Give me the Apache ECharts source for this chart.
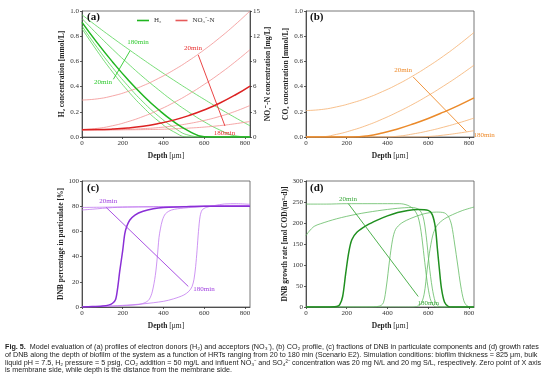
<!DOCTYPE html>
<html>
<head>
<meta charset="utf-8">
<script src="https://cdn.jsdelivr.net/npm/echarts@6/dist/echarts.min.js"></script>
<style>html,body{margin:0;padding:0;background:#fff}#c{width:554px;height:380px}</style>
</head>
<body>
<div id="c"></div>
<script>
// ---------- data ----------
const hrtNames = ['20min', '40min', '60min', '120min', '180min'];
const depth = [0, 75, 150, 225, 300, 375, 450, 525, 600, 675, 750, 825];
const xTicks = [0, 200, 400, 600, 800];

// (a) H2 [mmol/L]
const h2_1 = [0.86, 0.681, 0.516, 0.367, 0.237, 0.127, 0.042, 0, 0, 0, 0, 0];
const h2_2 = [0.88, 0.709, 0.551, 0.407, 0.278, 0.167, 0.077, 0.014, 0, 0, 0, 0];
const h2_3 = [0.91, 0.747, 0.596, 0.456, 0.330, 0.218, 0.122, 0.047, 0.002, 0, 0, 0];
const h2_4 = [0.94, 0.816, 0.697, 0.584, 0.476, 0.376, 0.282, 0.197, 0.121, 0.057, 0.010, 0];
const h2_5 = [0.97, 0.877, 0.787, 0.700, 0.615, 0.532, 0.452, 0.374, 0.299, 0.226, 0.156, 0.089];
// (a) NO3-N [mg/L]
const no3_1 = [4.4, 4.54, 4.89, 5.42, 6.11, 6.97, 7.96, 9.10, 10.38, 11.79, 13.33, 15.0];
const no3_2 = [0.9, 1.03, 1.34, 1.82, 2.44, 3.20, 4.09, 5.11, 6.26, 7.52, 8.90, 10.4];
const no3_3 = [0.87, 0.88, 0.94, 1.07, 1.28, 1.60, 2.01, 2.55, 3.22, 4.02, 4.97, 6.07];
const no3_4 = [0.85, 0.85, 0.87, 0.91, 0.99, 1.12, 1.32, 1.60, 1.97, 2.44, 3.03, 3.75];
const no3_5 = [0.85, 0.85, 0.85, 0.86, 0.88, 0.91, 0.97, 1.06, 1.18, 1.35, 1.57, 1.85];
// (b) CO2 [mmol/L]
const co2_1 = [0.21, 0.218, 0.239, 0.270, 0.310, 0.360, 0.418, 0.485, 0.560, 0.642, 0.732, 0.83];
const co2_2 = [0, 0.002, 0.021, 0.053, 0.093, 0.142, 0.198, 0.260, 0.329, 0.404, 0.484, 0.57];
const co2_3 = [0, 0, 0, 0, 0.008, 0.031, 0.064, 0.103, 0.147, 0.197, 0.251, 0.31];
const co2_4 = [0, 0, 0, 0, 0, 0, 0.006, 0.024, 0.048, 0.078, 0.112, 0.15];
const co2_5 = [0, 0, 0, 0, 0, 0, 0, 0, 0.004, 0.015, 0.031, 0.05];
// (c) DNB percentage in particulate [%]  ([depth, value])
const pct_1 = [[0,79],[100,79.2],[200,79.4],[300,79.5],[400,79.6],[500,79.7],[600,80],[700,80.3],[825,80.5]];
const pct_2 = [[0,77],[50,77.6],[100,78.3],[150,78.9],[200,79.2],[300,79.5],[400,79.6],[600,80],[825,80.3]];
const pct_3 = [[0,0],[50,0.3],[100,0.8],[130,1.5],[150,3],[165,6],[175,15],[185,28],[200,45],[210,58],[220,64],[235,69],[260,73],[300,76],[350,78],[400,79],[500,79.5],[600,80],[825,80]];
const pct_4 = [[0,0],[100,0.4],[200,1],[280,2],[310,3.5],[330,6],[345,12],[360,25],[370,40],[378,55],[385,62],[395,69],[410,74],[440,77],[500,78.5],[600,79.8],[700,80.6],[825,80.6]];
const pct_5 = [[0,0],[100,0.5],[200,1.3],[300,2.5],[400,4.5],[450,6.5],[500,9.5],[525,12.5],[540,16],[550,22],[558,32],[565,45],[572,60],[580,72],[590,77],[610,79],[650,80.5],[700,81.8],[760,82],[825,81.5]];
// (d) DNB growth rate [mol COD/(m3 d)]
const gr_1 = [[0,245],[100,245],[200,246],[300,246],[400,246],[460,246],[500,242],[530,232],[550,215],[565,180],[580,120],[595,60],[610,20],[625,4],[640,0],[825,0]];
const gr_2 = [[0,170],[15,180],[40,192],[70,198],[150,210],[250,221],[350,229],[450,235],[520,237],[555,232],[575,215],[590,170],[605,100],[620,45],[635,12],[650,2],[665,0],[825,0]];
const gr_3 = [[0,0],[100,0],[150,1],[165,5],[180,25],[195,80],[210,130],[225,160],[250,178],[300,195],[350,207],[400,217],[450,225],[500,230],[550,232],[600,230],[620,220],[635,190],[645,140],[655,90],[665,45],[680,12],[700,1],[720,0],[825,0]];
const gr_4 = [[0,0],[300,0],[360,2],[380,10],[395,50],[410,110],[425,160],[440,185],[470,200],[520,212],[580,222],[640,226],[680,224],[700,215],[715,195],[730,150],[745,100],[760,50],[775,15],[790,3],[810,0],[825,0]];
const gr_5 = [[0,0],[520,0],[560,5],[580,30],[595,90],[610,140],[625,175],[645,195],[680,210],[720,220],[770,230],[825,238]];

// ---------- style ----------
const SERIF = 'Liberation Serif';
const AX = '#333';
const pair = arr => depth.map((d, i) => [d, arr[i]]);

const grids = [
  {left: 82, top: 11, width: 168, height: 126},
  {left: 306, top: 11, width: 168, height: 126},
  {left: 82, top: 181, width: 168, height: 126},
  {left: 306, top: 181, width: 168, height: 126}
].map(g => Object.assign({show: true, borderColor: '#555', borderWidth: 0.8, containLabel: false}, g));

function xAx(i) {
  return {
    type: 'value', gridIndex: i, min: 0, max: 825,
    splitLine: {show: false},
    axisLine: {onZero: false, lineStyle: {color: AX, width: 0.8}},
    axisTick: {length: 2, customValues: xTicks, lineStyle: {color: AX, width: 0.8}},
    axisLabel: {customValues: xTicks, fontSize: 7, margin: 3, color: AX, fontFamily: SERIF},
    name: '{b|Depth} [μm]', nameLocation: 'middle', nameGap: 15,
    nameTextStyle: {fontSize: 7.5, fontFamily: SERIF, color: '#222',
      rich: {b: {fontSize: 7.5, fontFamily: SERIF, fontWeight: 'bold', color: '#222'}}}
  };
}
function yAx(i, min, max, interval, name, dec, pos) {
  return {
    type: 'value', gridIndex: i, min, max, interval, position: pos || 'left',
    splitLine: {show: false},
    axisLine: {show: true, onZero: false, lineStyle: {color: AX, width: 0.8}},
    axisTick: {show: true, length: 2, lineStyle: {color: AX, width: 0.8}},
    axisLabel: {fontSize: 7, margin: 3, color: AX, fontFamily: SERIF,
      formatter: v => v.toFixed(dec)},
    name, nameLocation: 'middle', nameRotate: 90, nameGap: pos === 'right' ? 12 : (dec ? 13 : 15),
    nameTextStyle: {fontSize: 7.5, fontFamily: SERIF, fontWeight: 'bold', color: '#222'}
  };
}

function line(name, xi, yi, data, color, width, sm) {
  return {
    type: 'line', name, xAxisIndex: xi, yAxisIndex: yi, data,
    symbol: 'none', showSymbol: false, smooth: sm,
    lineStyle: {color, width}, itemStyle: {color}, animation: false,
    z: width > 1 ? 4 : 3, silent: true
  };
}
function annot(xi, yi, color, from, to, lab1, lab2, pos2) {
  return {
    type: 'line', xAxisIndex: xi, yAxisIndex: yi, data: [], animation: false, silent: true, z: 6,
    markLine: {
      silent: true, animation: false, symbol: ['none', 'arrow'], symbolSize: [0, 5],
      lineStyle: {color, width: 0.9, type: 'solid'}, label: {show: false},
      data: [[{coord: from}, {coord: to}]]
    },
    markPoint: {
      silent: true, animation: false, symbol: 'circle', symbolSize: 0,
      label: {show: true, position: 'inside', color, fontSize: 7, fontFamily: SERIF},
      data: [
        {coord: lab1, label: {formatter: hrtNames[0]}},
        {coord: lab2, label: {formatter: hrtNames[4], position: pos2 || 'inside', distance: 0}}
      ]
    }
  };
}

const G = '#55d455', GT = '#1fb51f';
const R = '#f29090', RT = '#dc2222';
const O = '#f5b06e', OT = '#eb8a2a';
const P = '#c27af0', PT = '#8a2fd6';
const D = '#63bb63', DT = '#1f8f1f';

const S1 = 0.5, S2 = 0.3;
const series = [
  line('H₂', 0, 0, pair(h2_1), G, 0.8, S1),
  line('H₂', 0, 0, pair(h2_2), G, 0.8, S1),
  line('H₂', 0, 0, pair(h2_3), GT, 1.5, S1),
  line('H₂', 0, 0, pair(h2_4), G, 0.8, S1),
  line('H₂', 0, 0, pair(h2_5), G, 0.8, S1),
  line('NO₃⁻-N', 0, 1, pair(no3_1), R, 0.8, S1),
  line('NO₃⁻-N', 0, 1, pair(no3_2), R, 0.8, S1),
  line('NO₃⁻-N', 0, 1, pair(no3_3), RT, 1.5, S1),
  line('NO₃⁻-N', 0, 1, pair(no3_4), R, 0.8, S1),
  line('NO₃⁻-N', 0, 1, pair(no3_5), R, 0.8, S1),
  line('co1', 1, 2, pair(co2_1), O, 0.8, S1),
  line('co2', 1, 2, pair(co2_2), O, 0.8, S1),
  line('co3', 1, 2, pair(co2_3), OT, 1.5, S1),
  line('co4', 1, 2, pair(co2_4), O, 0.8, S1),
  line('co5', 1, 2, pair(co2_5), O, 0.8, S1),
  line('p1', 2, 3, pct_1, P, 0.8, S2),
  line('p2', 2, 3, pct_2, P, 0.8, S2),
  line('p3', 2, 3, pct_3, PT, 1.5, S2),
  line('p4', 2, 3, pct_4, P, 0.8, S2),
  line('p5', 2, 3, pct_5, P, 0.8, S2),
  line('g1', 3, 4, gr_1, D, 0.8, S2),
  line('g2', 3, 4, gr_2, D, 0.8, S2),
  line('g3', 3, 4, gr_3, DT, 1.5, S2),
  line('g4', 3, 4, gr_4, D, 0.8, S2),
  line('g5', 3, 4, gr_5, D, 0.8, S2),
  annot(0, 0, '#2ec92e', [154, 0.458], [236, 0.685], [103, 0.437], [275, 0.75]),
  annot(0, 1, '#e83030', [571, 9.76], [702, 1.31], [545, 10.63], [700, 0.5]),
  annot(1, 2, '#ee8a2a', [526, 0.477], [787, 0.045], [477, 0.53], [822, 0.013], 'right'),
  annot(2, 3, '#a040e0', [119, 79], [522, 16.3], [129, 84.2], [599, 14.5]),
  annot(3, 4, '#3aa83a', [208, 246], [551, 25], [206, 256], [600, 8])
];

const panelTitle = (t, left, top) => ({text: t, left, top, padding: 0,
  textStyle: {fontSize: 11, fontWeight: 'bold', fontFamily: SERIF, color: '#111'}});

const CAPF = 'Liberation Sans';
const capLines = [
  '{b|Fig. 5.}  Model evaluation of (a) profiles of electron donors (H₂) and acceptors (NO₃⁻), (b) CO₂ profile, (c) fractions of DNB in particulate components and (d) growth rates',
  'of DNB along the depth of biofilm of the system as a function of HRTs ranging from 20 to 180 min (Scenario E2). Simulation conditions: biofilm thickness = 825 μm, bulk',
  'liquid pH = 7.5, H₂ pressure = 5 psig, CO₂ addition = 50 mg/L and influent NO₃⁻ and SO₄²⁻ concentration was 20 mg N/L and 20 mg S/L, respectively. Zero point of X axis',
  'is membrane side, while depth is the distance from the membrane side.'
];

const chart = echarts.init(document.getElementById('c'), null, {renderer: 'canvas'});
chart.setOption({
  backgroundColor: '#fff',
  animation: false,
  grid: grids,
  title: [panelTitle('(a)', 87, 12), panelTitle('(b)', 310, 12), panelTitle('(c)', 87, 183), panelTitle('(d)', 310, 183)],
  legend: {
    data: [
      {name: 'H₂', icon: 'rect', itemStyle: {color: GT, borderWidth: 0}},
      {name: 'NO₃⁻-N', icon: 'rect', itemStyle: {color: '#e65a5a', borderWidth: 0}}
    ],
    left: 132, top: 12, itemWidth: 12, itemHeight: 1.6, itemGap: 14,
    textStyle: {fontSize: 7, fontFamily: SERIF, color: '#333'}, selectedMode: false
  },
  xAxis: [xAx(0), xAx(1), xAx(2), xAx(3)],
  yAxis: [
    yAx(0, 0, 1, 0.2, 'H₂ concentration [mmol/L]', 1),
    yAx(0, 0, 15, 3, 'NO₃⁻-N concentration [mg/L]', 0, 'right'),
    yAx(1, 0, 1, 0.2, 'CO₂ concentration [mmol/L]', 1),
    yAx(2, 0, 100, 20, 'DNB percentage in particulate [%]', 0),
    yAx(3, 0, 300, 50, 'DNB growth rate [mol COD/(m³·d)]', 0)
  ],
  series,
  graphic: capLines.map((t, i) => ({
    type: 'text', left: 5, top: 344 + i * 7.6, silent: true,
    style: {text: t, fontSize: 7.2, fontFamily: CAPF, fill: '#222',
      rich: {b: {fontSize: 7.2, fontWeight: 'bold', fontFamily: CAPF, fill: '#222'}}}
  }))
});
</script>
</body>
</html>
